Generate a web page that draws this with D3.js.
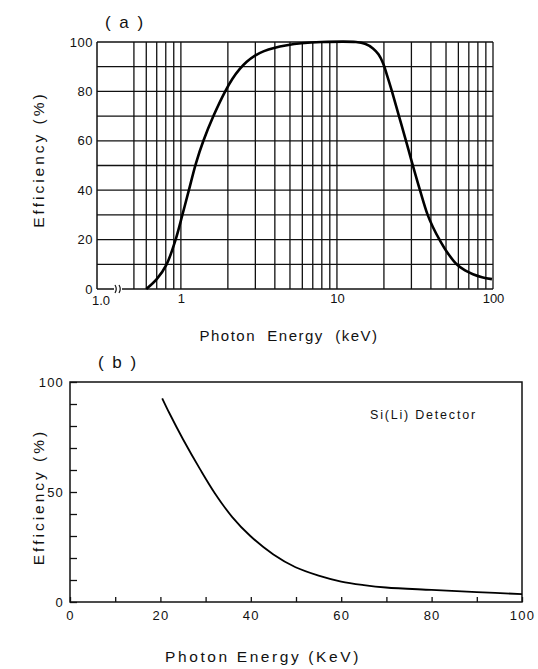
<!DOCTYPE html>
<html>
<head>
<meta charset="utf-8">
<script src="https://cdn.jsdelivr.net/npm/d3@7"></script>
<style>
  body { margin: 0; background: #fff; }
  svg { display: block; font-family: "Liberation Sans", Arial, sans-serif; }
</style>
</head>
<body>
<div id="chart"></div>
<script>
// Panel (a): efficiency vs photon energy (log axis)
const energyA = [0.6, 0.7, 0.81, 0.925, 1.022, 1.125, 1.25, 1.394, 1.616, 1.923, 2.136, 2.378, 2.642, 2.985, 3.41, 3.953, 4.78, 5.92, 7.96, 13.24, 15.12, 17.02, 18.45, 19.72, 21.07, 22.52, 24.97, 27.7, 30.03, 34.05, 38.14, 41.25, 45.4, 50.7, 58.5, 66.2, 74.4, 85.0, 98.5]
const effA = [0, 4, 10, 20, 30, 40, 51, 60, 70, 80, 85, 89, 92, 94.5, 96.3, 97.6, 98.7, 99.5, 100, 100, 99.3, 97.4, 95, 91.5, 86, 80, 70, 60, 52, 40, 30, 25, 20, 15, 10, 7.5, 6, 4.8, 4]
const gridXA = [0.5, 0.6, 0.7, 0.8, 0.9, 1, 2, 3, 4, 5, 6, 7, 8, 9, 10, 20, 30, 40, 50, 60, 70, 80, 90, 100]
const gridYA = [10, 20, 30, 40, 50, 60, 70, 80, 90, 100]
const tickXA = [1, 10, 100]
const tickYA = [0, 20, 40, 60, 80, 100]

// Panel (b): Si(Li) detector efficiency vs photon energy (linear axis)
const energyB = [20.4, 22, 25, 28.8, 32, 35.9, 39.9, 45, 49.9, 55, 60, 65, 69.9, 80, 90, 100]
const effB = [92.6, 85.8, 74, 60.3, 49.6, 38.6, 30, 21.6, 15.8, 12, 9.3, 7.7, 6.6, 5.5, 4.5, 3.6]
const tickXB = [0, 10, 20, 30, 40, 50, 60, 70, 80, 90, 100]
const tickYB = [0, 10, 20, 30, 40, 50, 60, 70, 80, 90, 100]

const width = 538, height = 669
const ink = '#111'

const svg = d3.select('#chart')
  .append('svg')
  .attr('width', width)
  .attr('height', height)

// ---------- panel (a) ----------
const a = { left: 97, right: 493, top: 42, bottom: 289 }

const xA = d3.scaleLog().domain([0.29, 100]).range([a.left, a.right])
const yA = d3.scaleLinear().domain([0, 100]).range([a.bottom, a.top])

const gA = svg.append('g')

// grid lines
gA.selectAll('line.vgrid')
  .data(gridXA)
  .enter().append('line')
  .attr('x1', d => xA(d)).attr('x2', d => xA(d))
  .attr('y1', a.top).attr('y2', a.bottom)
  .attr('stroke', ink).attr('stroke-width', 1.3)

gA.selectAll('line.hgrid')
  .data(gridYA)
  .enter().append('line')
  .attr('x1', a.left).attr('x2', a.right)
  .attr('y1', d => yA(d)).attr('y2', d => yA(d))
  .attr('stroke', ink).attr('stroke-width', 1.3)

// left axis + bottom axis
gA.append('line')
  .attr('x1', a.left).attr('x2', a.left)
  .attr('y1', a.top).attr('y2', a.bottom)
  .attr('stroke', ink).attr('stroke-width', 1.5)
gA.append('line')
  .attr('x1', a.left).attr('x2', a.right)
  .attr('y1', a.bottom).attr('y2', a.bottom)
  .attr('stroke', ink).attr('stroke-width', 1.5)

// axis break on the energy axis
const brk = 118
gA.append('rect')
  .attr('x', brk - 4).attr('y', a.bottom - 2)
  .attr('width', 8).attr('height', 4)
  .attr('fill', '#fff')
;[-2, 2].forEach(dx => {
  gA.append('path')
    .attr('d', `M${brk + dx - 1},${a.bottom + 4} Q${brk + dx + 1.5},${a.bottom} ${brk + dx - 1},${a.bottom - 4}`)
    .attr('fill', 'none')
    .attr('stroke', ink)
    .attr('stroke-width', 1.2)
})

// tick labels
const xAxisA = d3.axisBottom(xA)
  .tickValues(tickXA)
  .tickSize(0)
  .tickPadding(5)
  .tickFormat(d3.format('d'))

gA.append('g')
  .attr('transform', `translate(0,${a.bottom})`)
  .call(xAxisA)
  .call(g => g.select('.domain').remove())
  .call(g => g.selectAll('.tick text')
    .attr('font-size', 13)
    .attr('fill', ink)
    .attr('font-family', '"Liberation Sans", Arial, sans-serif'))

gA.append('text')
  .attr('x', a.left + 4).attr('y', a.bottom + 16)
  .attr('text-anchor', 'middle')
  .attr('font-size', 13)
  .attr('fill', ink)
  .text('1.0')

const yAxisA = d3.axisLeft(yA)
  .tickValues(tickYA)
  .tickSize(0)
  .tickPadding(4)

gA.append('g')
  .attr('transform', `translate(${a.left},0)`)
  .call(yAxisA)
  .call(g => g.select('.domain').remove())
  .call(g => g.selectAll('.tick text')
    .attr('font-size', 13)
    .attr('fill', ink)
    .attr('letter-spacing', 0.5)
    .attr('font-family', '"Liberation Sans", Arial, sans-serif'))

// curve
const lineA = d3.line()
  .x((d, i) => xA(energyA[i]))
  .y(d => yA(d))
  .curve(d3.curveCatmullRom.alpha(0.5))

gA.append('path')
  .datum(effA)
  .attr('fill', 'none')
  .attr('stroke', '#000')
  .attr('stroke-width', 2.6)
  .attr('d', lineA)

// labels
gA.append('text')
  .attr('x', 125).attr('y', 28)
  .attr('text-anchor', 'middle')
  .attr('font-size', 17)
  .attr('letter-spacing', 2)
  .attr('fill', ink)
  .text('( a )')

gA.append('text')
  .attr('transform', `translate(44,${(a.top + a.bottom) / 2 - 6}) rotate(-90)`)
  .attr('text-anchor', 'middle')
  .attr('font-size', 15.5)
  .attr('letter-spacing', 3)
  .attr('fill', ink)
  .text('Efficiency (%)')

gA.append('text')
  .attr('x', 289).attr('y', 341)
  .attr('text-anchor', 'middle')
  .attr('font-size', 15)
  .attr('letter-spacing', 1.5)
  .attr('fill', ink)
  .attr('xml:space', 'preserve')
  .text('Photon  Energy  (keV)')

// ---------- panel (b) ----------
const b = { left: 70, right: 522, top: 382, bottom: 602 }

const xB = d3.scaleLinear().domain([0, 100]).range([b.left, b.right])
const yB = d3.scaleLinear().domain([0, 100]).range([b.bottom, b.top])

const gB = svg.append('g')

gB.append('rect')
  .attr('x', b.left).attr('y', b.top)
  .attr('width', b.right - b.left).attr('height', b.bottom - b.top)
  .attr('fill', 'none')
  .attr('stroke', ink)
  .attr('stroke-width', 1.5)

const xAxisB = d3.axisBottom(xB)
  .tickValues(tickXB)
  .tickSizeInner(-5)
  .tickSizeOuter(0)
  .tickPadding(9)
  .tickFormat(d => d % 20 === 0 ? d : '')

gB.append('g')
  .attr('transform', `translate(0,${b.bottom})`)
  .call(xAxisB)
  .call(g => g.select('.domain').remove())
  .call(g => g.selectAll('.tick line').attr('stroke', ink).attr('stroke-width', 1.3))
  .call(g => g.selectAll('.tick text')
    .attr('font-size', 13)
    .attr('letter-spacing', 1.2)
    .attr('fill', ink)
    .attr('font-family', '"Liberation Sans", Arial, sans-serif'))

const yAxisB = d3.axisLeft(yB)
  .tickValues(tickYB)
  .tickSizeInner(-7)
  .tickSizeOuter(0)
  .tickPadding(6)
  .tickFormat(d => d % 50 === 0 ? d : '')

gB.append('g')
  .attr('transform', `translate(${b.left},0)`)
  .call(yAxisB)
  .call(g => g.select('.domain').remove())
  .call(g => g.selectAll('.tick line').attr('stroke', ink).attr('stroke-width', 1.3))
  .call(g => g.selectAll('.tick text')
    .attr('font-size', 13)
    .attr('letter-spacing', 1.2)
    .attr('fill', ink)
    .attr('font-family', '"Liberation Sans", Arial, sans-serif'))

const lineB = d3.line()
  .x((d, i) => xB(energyB[i]))
  .y(d => yB(d))
  .curve(d3.curveCatmullRom.alpha(0.5))

gB.append('path')
  .datum(effB)
  .attr('fill', 'none')
  .attr('stroke', '#000')
  .attr('stroke-width', 1.8)
  .attr('d', lineB)

gB.append('text')
  .attr('x', 118).attr('y', 368)
  .attr('text-anchor', 'middle')
  .attr('font-size', 17)
  .attr('letter-spacing', 2)
  .attr('fill', ink)
  .text('( b )')

gB.append('text')
  .attr('x', 370).attr('y', 419)
  .attr('font-size', 12.5)
  .attr('letter-spacing', 1.8)
  .attr('fill', ink)
  .text('Si(Li) Detector')

gB.append('text')
  .attr('transform', `translate(44,${(b.top + b.bottom) / 2 + 5}) rotate(-90)`)
  .attr('text-anchor', 'middle')
  .attr('font-size', 15.5)
  .attr('letter-spacing', 3)
  .attr('fill', ink)
  .text('Efficiency (%)')

gB.append('text')
  .attr('x', 263).attr('y', 662)
  .attr('text-anchor', 'middle')
  .attr('font-size', 15.5)
  .attr('letter-spacing', 2.6)
  .attr('fill', ink)
  .text('Photon Energy (KeV)')
</script>
</body>
</html>
